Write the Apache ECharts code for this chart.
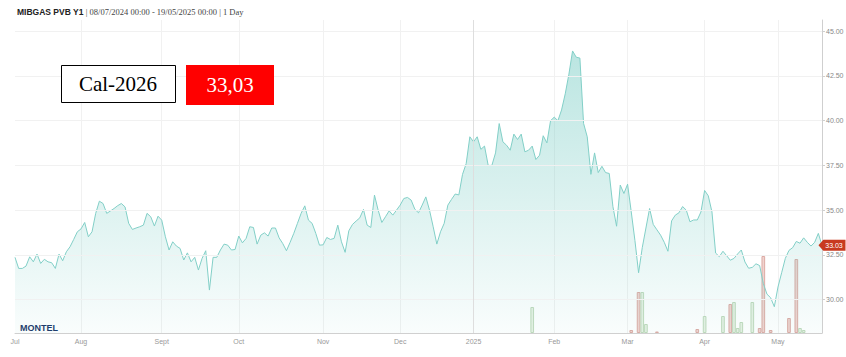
<!DOCTYPE html>
<html>
<head>
<meta charset="utf-8">
<script src="https://cdn.jsdelivr.net/npm/echarts@6/dist/echarts.min.js"></script>
<style>html,body{margin:0;padding:0;background:#fff}#c{width:846px;height:357px}</style>
</head>
<body>
<div id="c"></div>
<script>
// ---- DATA ----
const startDate = '2024-07-08';
const endDate = '2025-05-19';
const holidays = ['2024-12-25','2024-12-26','2025-01-01','2025-04-18','2025-04-21'];

const prices = [
32.36,31.74,31.74,31.87,32.39,32.11,32.54,32.02,32.25,32.11,
32.06,31.74,32.54,32.17,32.67,32.95,33.36,33.79,33.95,34.31,
33.51,33.79,34.82,35.50,35.37,34.82,34.95,35.09,35.25,35.37,
35.18,34.26,33.92,34.00,34.07,34.16,34.82,34.63,34.11,34.66,
34.44,33.51,32.77,33.23,32.99,32.86,32.21,32.61,32.11,32.36,
31.65,32.30,32.73,30.53,32.36,32.36,32.77,33.10,33.04,32.77,
32.80,33.55,33.17,33.42,34.07,34.03,33.10,33.60,33.73,33.55,
34.00,34.00,33.45,33.13,32.73,33.20,33.70,34.26,34.82,35.24,
34.44,34.26,33.70,33.04,33.06,33.47,33.36,33.42,34.16,33.23,
32.64,33.84,34.20,34.39,34.57,35.04,34.16,34.03,35.84,35.00,
34.31,34.63,34.96,34.72,35.00,35.28,35.65,35.71,35.56,35.05,
34.85,35.28,35.74,35.00,34.07,33.10,33.79,34.26,35.28,35.60,
35.90,35.85,37.00,37.60,39.10,38.82,39.10,38.40,38.58,37.50,
37.50,38.20,39.84,38.82,38.63,38.35,39.25,38.95,39.25,38.26,
38.35,38.58,37.83,38.07,39.16,38.76,40.00,40.20,40.00,40.60,
41.50,42.60,43.90,43.55,43.50,39.85,39.10,37.00,38.20,37.10,
37.45,37.10,37.05,35.20,34.10,36.40,35.93,36.45,34.90,33.30,
31.50,32.90,34.00,35.09,34.20,33.90,33.60,33.20,32.70,34.40,
34.72,34.85,35.20,35.00,34.35,34.45,34.45,34.90,36.10,35.80,
34.90,32.60,32.40,32.70,32.45,32.20,32.30,32.55,32.77,32.10,
31.75,31.80,32.00,31.90,30.90,30.30,30.10,29.60,30.70,31.50,
32.30,32.75,32.90,33.25,33.15,33.45,33.20,32.99,33.20,33.70,
33.03
];

const pinkVolDates  = ['2025-03-04','2025-03-06','2025-03-13','2025-03-28','2025-04-10','2025-04-24','2025-04-25','2025-04-29','2025-05-06','2025-05-08'];
const pinkVolValues = [3, 41, 1.5, 4, 29, 5, 77, 3, 15, 74];
const greenVolDates  = ['2025-01-24','2025-03-07','2025-03-10','2025-04-01','2025-04-08','2025-04-11','2025-04-14','2025-04-15','2025-04-22','2025-05-09','2025-05-12'];
const greenVolValues = [26, 41, 9, 17, 17, 31, 5, 11, 31, 5, 3];

const monthTickDates  = ['2024-07-08','2024-08-01','2024-09-02','2024-10-01','2024-11-01','2024-12-02','2025-01-02','2025-02-03','2025-03-03','2025-04-01','2025-05-01'];
const monthTickLabels = ['Jul','Aug','Sept','Oct','Nov','Dec','2025','Feb','Mar','Apr','May'];
const yTickValues = [30, 32.5, 35, 37.5, 40, 42.5, 45];

// ---- build trading-day categories ----
const dates = [];
{
  const d = new Date(startDate + 'T00:00:00Z');
  const e = new Date(endDate + 'T00:00:00Z');
  while (d <= e) {
    const s = d.toISOString().slice(0, 10);
    const wd = d.getUTCDay();
    if (wd !== 0 && wd !== 6 && holidays.indexOf(s) < 0) dates.push(s);
    d.setUTCDate(d.getUTCDate() + 1);
  }
}
const priceData = dates.map((d, i) => [d, prices[i]]);
const pinkData = pinkVolDates.map((d, i) => [d, pinkVolValues[i]]);
const greenData = greenVolDates.map((d, i) => [d, greenVolValues[i]]);
const tickMap = {};
monthTickDates.forEach((d, i) => tickMap[d] = monthTickLabels[i]);
const lastPrice = prices[prices.length - 1];

const chart = echarts.init(document.getElementById('c'), null, {renderer: 'svg'});
chart.setOption({
  animation: false,
  backgroundColor: '#fff',
  title: {
    left: 12, top: 2,
    text: '{b|MIBGAS PVB Y1}{s| | 08/07/2024 00:00 - 19/05/2025 00:00 | 1 Day}',
    textStyle: {
      fontWeight: 'normal',
      rich: {
        b: {fontFamily: 'Liberation Sans', fontWeight: 'bold', fontSize: 8.5, color: '#222'},
        s: {fontFamily: 'Liberation Serif', fontWeight: 'normal', fontSize: 8.5, color: '#444'}
      }
    }
  },
  grid: {left: 15, right: 24, top: 20, bottom: 24, containLabel: false, outerBoundsMode: 'none'},
  xAxis: {
    type: 'category',
    data: dates,
    boundaryGap: false,
    axisLine: {lineStyle: {color: '#d0d0d0'}},
    axisTick: {show: false},
    axisLabel: {
      interval: (i, v) => tickMap[v] !== undefined,
      formatter: v => tickMap[v] || '',
      color: '#999', fontSize: 7, fontFamily: 'Liberation Sans', margin: 5
    },
    splitLine: {
      show: true,
      interval: (i, v) => tickMap[v] !== undefined && i > 0,
      lineStyle: {color: '#f1f1f1', width: 1}
    }
  },
  yAxis: [{
    type: 'value',
    position: 'right',
    min: 28.13, max: 45.63,
    axisLine: {show: true, lineStyle: {color: '#cfcfcf'}},
    axisTick: {show: true, length: 3, customValues: yTickValues, lineStyle: {color: '#cfcfcf'}},
    axisLabel: {customValues: yTickValues, formatter: v => v.toFixed(2), color: '#888', fontSize: 7, fontFamily: 'Liberation Sans', margin: 4},
    splitLine: {show: false}
  }, {
    type: 'value',
    min: 0, max: 313,
    show: false,
    splitLine: {show: false}
  }],
  series: [{
    type: 'line',
    name: 'grid',
    data: [],
    z: 1,
    silent: true,
    markLine: {
      silent: true, symbol: 'none', label: {show: false},
      data: yTickValues.map(v => ({yAxis: v, lineStyle: {color: '#f1f1f1', width: 1, type: 'solid'}}))
        .concat([{xAxis: '2025-01-02', lineStyle: {color: '#dedede', width: 1, type: 'solid'}}])
    }
  }, {
    type: 'bar',
    name: 'pink',
    yAxisIndex: 1,
    data: pinkData,
    barWidth: '100%',
    barGap: '-100%',
    z: 2,
    itemStyle: {color: '#f0d3cf', borderColor: '#dcaaa4', borderWidth: 1}
  }, {
    type: 'bar',
    name: 'green',
    yAxisIndex: 1,
    data: greenData,
    barWidth: '100%',
    barGap: '-100%',
    z: 2,
    itemStyle: {color: '#e6f1e3', borderColor: '#bfd9bb', borderWidth: 1}
  }, {
    type: 'line',
    name: 'MIBGAS PVB Y1',
    data: priceData,
    z: 3,
    symbol: 'none',
    lineStyle: {color: '#82cfc7', width: 1},
    areaStyle: {
      color: new echarts.graphic.LinearGradient(0, 0, 0, 1, [
        {offset: 0, color: 'rgba(120,204,196,0.72)'},
        {offset: 1, color: 'rgba(120,204,196,0.06)'}
      ])
    },
    markPoint: {
      silent: true,
      symbol: 'path://M0,6 L5,0 L28,0 L28,12 L5,12 Z',
      symbolKeepAspect: false,
      symbolSize: [27, 11],
      symbolOffset: [10, 0],
      itemStyle: {color: '#c8391f'},
      label: {show: true, color: '#fff', fontSize: 7, fontFamily: 'Liberation Sans', offset: [2, 0], formatter: () => lastPrice.toFixed(2)},
      data: [{coord: [dates[dates.length - 1], lastPrice]}]
    }
  }],
  graphic: [
    {type: 'rect', left: 61, top: 65, shape: {width: 114, height: 37}, style: {fill: '#fff', stroke: '#000', lineWidth: 1}, z: 10},
    {type: 'text', x: 118, y: 84, style: {text: 'Cal-2026', font: '21px "Liberation Serif"', fill: '#000', align: 'center', verticalAlign: 'middle'}, z: 11},
    {type: 'rect', left: 186, top: 65, shape: {width: 88, height: 40}, style: {fill: '#ff0000'}, z: 10},
    {type: 'text', x: 230, y: 85, style: {text: lastPrice.toFixed(2).replace('.', ','), font: '21px "Liberation Serif"', fill: '#fff', align: 'center', verticalAlign: 'middle'}, z: 11},
    {type: 'text', left: 20, top: 323, style: {text: 'MONTEL', font: 'bold 9px "Liberation Sans"', fill: '#1f3d6d'}, z: 11}
  ]
});
</script>
</body>
</html>
